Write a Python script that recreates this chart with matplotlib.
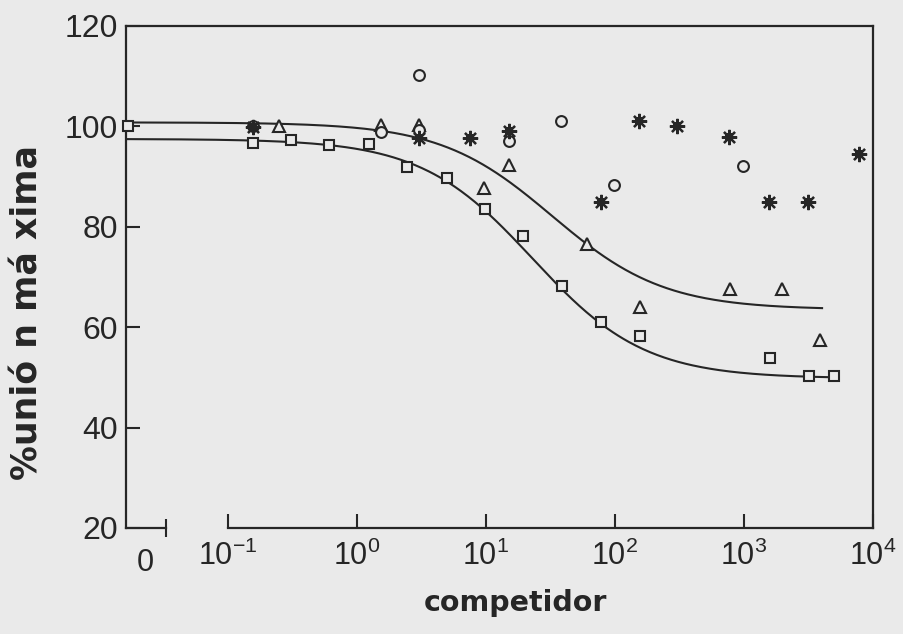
import numpy as np
import matplotlib
matplotlib.use("Agg")
import matplotlib.pyplot as plt
import matplotlib.transforms as mtransforms

# Concentraciones de competidor (0 = sin competidor) y % de unión
sq_x = [0, 0.156, 0.31, 0.61, 1.23, 2.44, 4.99, 9.87, 19.4, 38.8, 77.8, 155, 1578, 3164, 5000]
sq_y = [100, 96.6, 97.2, 96.3, 96.5, 91.9, 89.7, 83.5, 78.2, 68.3, 61.1, 58.2, 53.9, 50.3, 50.3]

tri_x = [0.247, 1.54, 3.05, 9.7, 15.2, 60.7, 155, 783, 1972, 3890]
tri_y = [100, 100.3, 100.3, 87.7, 92.3, 76.6, 64.0, 67.7, 67.7, 57.5]

cir_x = [0.156, 1.53, 3.05, 3.05, 15.2, 38.4, 97.7, 977]
cir_y = [100, 98.8, 99.2, 110.2, 97.0, 101.1, 88.3, 92.1]

st_x = [0.156, 3.05, 7.46, 15.2, 77.8, 152.6, 305, 759, 1550, 3126, 7730]
st_y = [99.8, 97.6, 97.6, 99.1, 85.0, 101.1, 100.1, 97.9, 85.0, 85.0, 94.5]

# Parámetros del ajuste sigmoide: (máximo, mínimo, EC50, pendiente, x final)
fit_sq = (97.5, 49.8, 23.0, 1.0, 5000)
fit_tri = (100.8, 63.5, 32.6, 1.0, 4030)

x_ticks = [0.1, 1, 10, 100, 1000, 10000]
x_ticklabels = [r"$10^{-1}$", r"$10^{0}$", r"$10^{1}$", r"$10^{2}$", r"$10^{3}$", r"$10^{4}$"]
y_ticks = [20, 40, 60, 80, 100, 120]

BG = "#eaeaea"
INK = "#262626"

# posición (en décadas) del tramo "0" del eje roto
U_LEFT = -1.79
U_ZERO = -1.775
U_BREAK = -1.478
U_ZERO_LABEL = -1.64


def forward(x):
    x = np.asarray(x, dtype=float)
    return np.log10(np.where(x > 0, x, 10 ** U_ZERO))


def inverse(u):
    return 10 ** np.asarray(u, dtype=float)


def sigmoid(x, top, bottom, ec50, hill):
    return bottom + (top - bottom) / (1 + (x / ec50) ** hill)


plt.rcParams["font.family"] = ["Liberation Sans", "DejaVu Sans"]
plt.rcParams["mathtext.fontset"] = "custom"
plt.rcParams["mathtext.rm"] = "Liberation Sans"
plt.rcParams["mathtext.it"] = "Liberation Sans:italic"
plt.rcParams["mathtext.bf"] = "Liberation Sans:bold"

fig = plt.figure(figsize=(9.04, 6.34), dpi=100, facecolor=BG)
ax = fig.add_axes([0.1394, 0.1672, 0.8263, 0.7918], facecolor=BG)
ax.set_xscale("function", functions=(forward, inverse))
ax.set_xlim(10 ** U_LEFT, 1e4)
ax.set_ylim(20, 120)

# curvas de ajuste
for top, bottom, ec50, hill, x_end in (fit_sq, fit_tri):
    xs = np.logspace(U_ZERO, np.log10(x_end), 400)
    ax.plot(xs, sigmoid(xs, top, bottom, ec50, hill), color=INK, lw=1.5, zorder=2)

mk = dict(linestyle="none", color=INK, mfc=BG, mew=1.5, clip_on=False, zorder=3)
ax.plot(sq_x, sq_y, marker="s", ms=7.8, **mk)
ax.plot(tri_x, tri_y, marker="^", ms=8, **mk)
ax.plot(cir_x, cir_y, marker="o", ms=7.8, **mk)
# asterisco relleno: núcleo cuadrado + 8 rayos
ax.plot(st_x, st_y, marker="s", ms=5.8, linestyle="none", color=INK,
        mew=0, clip_on=False, zorder=3)
ax.plot(st_x, st_y, marker=(8, 2, 0), ms=11, linestyle="none", color=INK,
        mew=1.6, clip_on=False, zorder=3)

# ejes
for side in ("left", "right", "top", "bottom"):
    ax.spines[side].set_linewidth(1.6)
    ax.spines[side].set_color(INK)
ax.spines["bottom"].set_bounds(0.1, 1e4)

# tramo del cero con su marca de corte
ax.plot([10 ** U_LEFT, 10 ** U_BREAK], [20, 20], color=INK, lw=1.6,
        marker="|", ms=13, mew=1.5, markevery=[1], clip_on=False, zorder=4)

ax.set_xticks(x_ticks)
ax.set_xticklabels(x_ticklabels)
ax.xaxis.set_minor_locator(matplotlib.ticker.NullLocator())
ax.set_yticks(y_ticks)
ax.tick_params(axis="both", direction="in", length=10, width=1.5, color=INK,
               labelcolor=INK, top=False, right=False)
ax.tick_params(axis="x", labelsize=22, pad=9)
ax.tick_params(axis="y", labelsize=23, pad=6)

trans = mtransforms.blended_transform_factory(ax.transData, ax.transAxes)
ax.text(10 ** U_ZERO_LABEL, -0.04, "0", transform=trans, ha="center", va="top",
        fontsize=22, color=INK)

fig.text(0.5697, 0.036, "competidor", ha="center", va="baseline",
         fontsize=20.5, fontweight="bold", family="DejaVu Sans", color=INK)
fig.text(0.030, 0.507, "%unió n má xima", rotation=90, ha="center", va="center",
         fontsize=25, fontweight="bold", family="DejaVu Sans", color=INK)

fig.savefig("out.png", dpi=100, facecolor=BG)
